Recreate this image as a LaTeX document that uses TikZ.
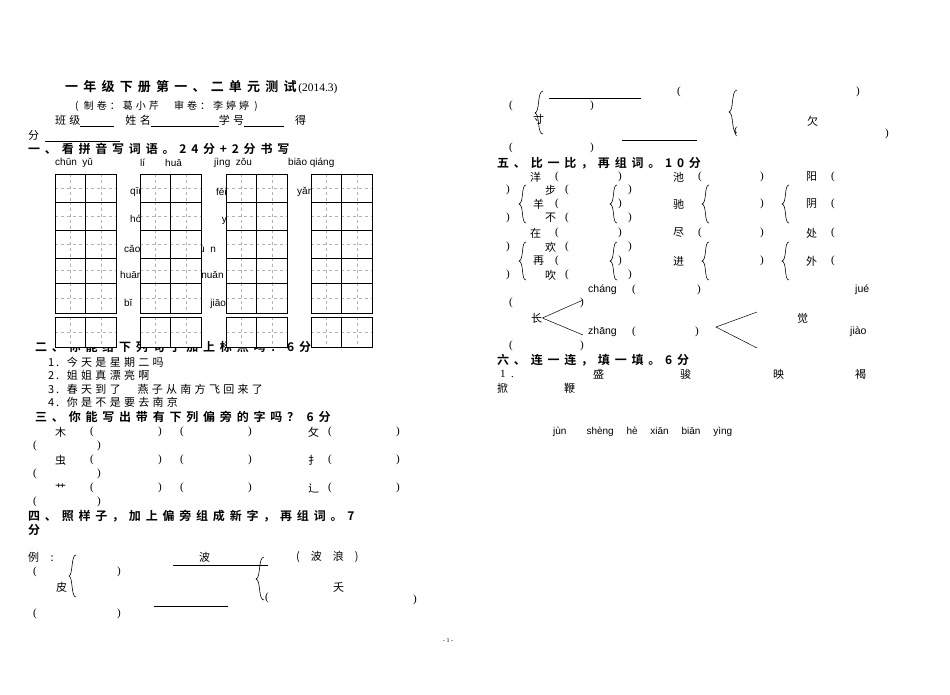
\documentclass[tikz,border=0pt]{standalone}
\usepackage{fontspec}
\setmainfont{Liberation Serif}
\newfontfamily\cjk{Noto Sans CJK SC}[LetterSpace=30]
\newfontfamily\cjkh{Noto Sans CJK SC}[LetterSpace=40,BoldFont={Noto Sans CJK SC Bold}]
\newfontfamily\py{Liberation Sans}
\begin{document}
\begin{tikzpicture}[x=1pt,y=-1pt,
  t/.style={anchor=west,inner sep=0pt,font=\cjk\fontsize{11}{12}\selectfont},
  hd/.style={anchor=west,inner sep=0pt,font=\cjkh\bfseries\fontsize{12}{13}\selectfont},
  p/.style={anchor=west,inner sep=0pt,font=\py\fontsize{10}{11}\selectfont},
  ps/.style={anchor=west,inner sep=0pt,font=\fontsize{11}{12}\selectfont},
  ln/.style={line width=0.6pt}]
\useasboundingbox[fill=white] (0,0) rectangle (950,694);
% ---------- left column
\node[anchor=west,inner sep=0pt] (title) at (65,87) {{\cjkh\bfseries\fontsize{13}{14}\selectfont 一年级下册第一、二单元测试}\,{\fontsize{11.5}{12}\selectfont(2014.3)}};
\node[t,font=\cjk\fontsize{10}{11}\selectfont] (auth) at (75,106) {( 制卷：葛小芹 \quad 审卷：李婷婷 )};
\node[t] (cls) at (55,121) {班级\underline{\hspace{34pt}}\quad 姓名\underline{\hspace{68pt}}学号\underline{\hspace{40pt}}\quad 得};
\node[t] (fen) at (28,135) {分};
\draw[ln] (45,141) -- (120,141);
\node[hd] (h1) at (28,149) {一、看拼音写词语。24分+2分书写};
\foreach \x/\s in {55/{chūn\ \ yǔ},140/{lí\qquad huā},214/{jìng\ \ zǒu},288/{biāo\ qiáng}}
  \node[p] at (\x,163) {\s};
% partly hidden pinyin rows
\node[p] at (130,192) {qīng};\node[p] at (216,192) {fēi};\node[p] at (297,192) {yǎn};
\node[p] at (130,220) {hóng\quad yùn\quad bái\qquad yuè};
\node[p] at (124,248) {cǎo\quad lǜ\quad xiū\quad mù\ \ n};
\node[p] at (120,276) {huān\quad yàn\ \ chūn\ \ nuǎn};
\node[p] at (124,304) {bǐ\qquad ɡē\ \ shēn\qquad jiāo};
\node[hd] (h2) at (35,347) {二、你能给下列句子加上标点吗？6分};
% grids
\foreach \x in {55,140,226,311}{
  \foreach \ya/\yb in {174/202,202/230,230/258,258/283,283/313,317/347}{
    \fill[white] (\x,\ya) rectangle ++(61,\yb-\ya);
    \draw[gray!60,dashed,line width=0.3pt] (\x+15.25,\ya) -- (\x+15.25,\yb) (\x+45.75,\ya) -- (\x+45.75,\yb) (\x,{(\ya+\yb)/2}) -- (\x+61,{(\ya+\yb)/2});
    \draw[line width=0.7pt] (\x,\ya) rectangle (\x+61,\yb) (\x+30.5,\ya) -- (\x+30.5,\yb);
  }}
\node[t] (s1) at (48,362) {1\,. 今天是星期二吗};
\node[t] (s2) at (48,375) {2\,. 姐姐真漂亮啊};
\node[t] (s3) at (48,389) {3\,. 春天到了 \quad 燕子从南方飞回来了};
\node[t] (s4) at (48,402) {4\,. 你是不是要去南京};
\node[hd] (h3) at (35,417) {三、你能写出带有下列偏旁的字吗？ 6分};
\foreach \y/\a/\b in {432/木/攵,460/虫/扌,488/艹/辶}{
  \node[t] at (55,\y) {\a}; \node[t] at (308,\y) {\b};
  \foreach \x/\c in {90/(,158/),180/(,248/),328/(,396/)} \node[ps] at (\x,\y) {\c};
  \node[ps] at (33,\y+14) {(}; \node[ps] at (97,\y+14) {)};
}
\node[hd] (h4) at (28,516) {四、照样子，加上偏旁组成新字，再组词。7};
\node[hd] (h4b) at (28,530) {分};
\node[t] (ex) at (28,557) {例\ \ :};
\draw[ln] (76,555) .. controls (71,555) and (73,575) .. (69,576) .. controls (73,577) and (71,597) .. (76,597);
\node[t] (bo) at (199,557) {波};
\draw[ln] (173,565) -- (268,565);
\draw[ln] (264,557) .. controls (258,557) and (261,578) .. (256,579) .. controls (261,580) and (258,600) .. (264,600);
\node[t] (bl) at (296,557) {(\quad 波\quad 浪\quad )};
\node[ps] at (33,572) {(}; \node[ps] at (117,572) {)};
\node[t] (pi) at (56,587) {皮};
\node[t] (yao) at (333,587) {夭};
\node[ps] at (265,598) {(}; \node[ps] at (413,600) {)};
\draw[ln] (154,606) -- (228,606);
\node[ps] at (33,614) {(}; \node[ps] at (117,614) {)};
% ---------- right column
\node[ps] at (677,92) {(}; \node[ps] at (856,92) {)};
\draw[ln] (549,98) -- (641,98);
\node[ps] at (509,106) {(}; \node[ps] at (590,106) {)};
\draw[ln] (543,91) .. controls (537,91) and (540,112) .. (535,113) .. controls (540,114) and (537,134) .. (543,134);
\node[t] (cun) at (533,119) {寸};
\draw[ln] (737,90) .. controls (731,90) and (734,111) .. (729,112) .. controls (734,113) and (731,133) .. (737,133);
\node[t] (qian) at (807,121) {欠};
\node[ps] at (734,132) {(}; \node[ps] at (885,134) {)};
\draw[ln] (622,140) -- (697,140);
\node[ps] at (509,148) {(}; \node[ps] at (590,148) {)};
\node[hd] (h5) at (497,163) {五、比一比，再组词。10分};
\foreach \y/\a/\b/\c in {177/洋/池/阳,233/在/尽/处}{
  \node[t] at (530,\y) {\a}; \node[t] at (673,\y) {\b}; \node[t] at (806,\y) {\c};
  \foreach \x/\s in {555/(,618/),698/(,760/),831/(} \node[ps] at (\x,\y) {\s};}
\foreach \y/\a/\b/\c/\d/\e/\f in {204/步/羊/不/驰/阴/,261/欢/再/吹/进/外/}{
  \node[ps] at (506,\y-14) {)}; \node[ps] at (506,\y+14) {)};
  \node[t] at (545,\y-14) {\a}; \node[t] at (533,\y) {\b}; \node[t] at (545,\y+14) {\c};
  \node[ps] at (565,\y-14) {(}; \node[ps] at (555,\y) {(}; \node[ps] at (565,\y+14) {(};
  \node[ps] at (628,\y-14) {)}; \node[ps] at (618,\y) {)}; \node[ps] at (628,\y+14) {)};
  \node[t] at (673,\y) {\d}; \node[ps] at (760,\y) {)}; \node[t] at (806,\y) {\e}; \node[ps] at (831,\y) {(};
  \foreach \bx in {522,613,705,785}
    \draw[ln] (\bx+4,\y-19) .. controls (\bx-1,\y-19) and (\bx+2,\y-1) .. (\bx-3,\y) .. controls (\bx+2,\y+1) and (\bx-1,\y+19) .. (\bx+4,\y+19);
}
\node[p,font=\py\fontsize{10.5}{11}\selectfont] (chang) at (588,290) {cháng};
\node[ps] at (632,290) {(}; \node[ps] at (697,290) {)};
\node[p,font=\py\fontsize{10.5}{11}\selectfont] (jue) at (855,290) {jué};
\node[ps] at (509,303) {(}; \node[ps] at (580,303) {)};
\node[t] (zhang0) at (531,318) {长};
\coordinate (c1) at (583,300); \coordinate (c2) at (583,335);
\draw[line width=0.5pt] (zhang0.east) -- (c1) (zhang0.east) -- (c2);
\node[p,font=\py\fontsize{10.5}{11}\selectfont] (zhang) at (588,332) {zhāng};
\node[ps] at (632,332) {(}; \node[ps] at (695,332) {)};
\node[p,font=\py\fontsize{10.5}{11}\selectfont] (jiao) at (850,332) {jiào};
\node[t] (jue0) at (797,318) {觉};
\coordinate (d0) at (716,327); \coordinate (d1) at (757,312); \coordinate (d2) at (757,348);
\draw[line width=0.5pt] (d1) -- (d0) -- (d2);
\node[ps] at (509,346) {(}; \node[ps] at (580,346) {)};
\node[hd] (h6) at (497,360) {六、连一连，填一填。6分};
\node[ps] at (500,374) {1\ \ .};
\node[t] at (593,374) {盛};\node[t] at (680,374) {骏};\node[t] at (773,374) {映};\node[t] at (855,374) {褐};
\node[t] at (497,388) {掀};\node[t] at (564,388) {鞭};
\node[p] (pyl) at (553,432) {jùn\qquad shèng\quad\ hè\quad\ xiān\quad\ biān\quad\ yìng};
\node[ps,font=\fontsize{6}{7}\selectfont] (pg) at (443,641) {- 1 -};
\end{tikzpicture}
\end{document}
